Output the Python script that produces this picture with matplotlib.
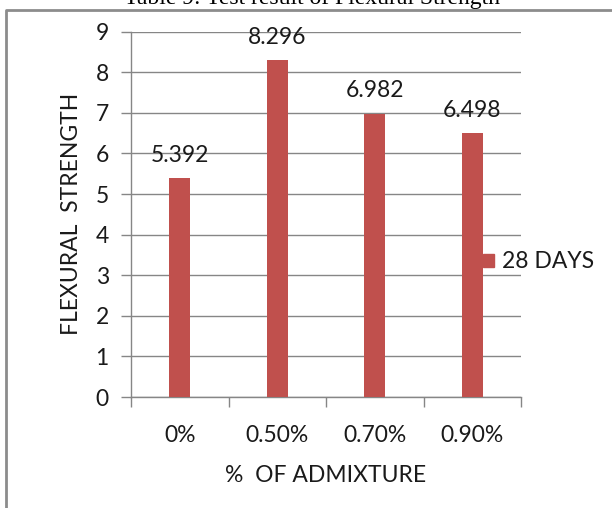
import matplotlib
matplotlib.use("Agg")
from matplotlib import pyplot as plt
from matplotlib.lines import Line2D
from matplotlib.patches import Patch

# flexural strength at 28 days for each admixture dose
categories = ["0%", "0.50%", "0.70%", "0.90%"]
strength_28 = [5.392, 8.296, 6.982, 6.498]
value_labels = ["5.392", "8.296", "6.982", "6.498"]
series_name = "28 DAYS"

bar_color = "#C0504D"
grid_color = "#868686"
text_color = "#1a1a1a"
font = "Lato"
fsize = 16.5

fig = plt.figure(figsize=(6.12, 5.08), dpi=100)
W, H = 612.0, 508.0

ax = fig.add_axes([131 / W, 1 - 397 / H, 390 / W, 365.3 / H])

xs = list(range(len(categories)))
ax.bar(xs, strength_28, width=0.22, color=bar_color, zorder=3)

for x, v, lab in zip(xs, strength_28, value_labels):
    ax.annotate(lab, (x, v), xytext=(0, 9), textcoords="offset points",
                ha="center", va="bottom", fontsize=fsize, family=font,
                color=text_color, zorder=4)

ax.set_xlim(-0.5, len(categories) - 0.5)
ax.set_ylim(0, 9)
ax.set_yticks(range(0, 10))
ax.yaxis.grid(True, color=grid_color, lw=1)
ax.set_axisbelow(True)

# ticks on the category boundaries, labels in the middle
ax.set_xticks([i - 0.5 for i in range(len(categories) + 1)])
ax.set_xticklabels([])
ax.set_xticks(xs, minor=True)
ax.set_xticklabels(categories, minor=True)
ax.tick_params(axis="x", which="major", length=7, color=grid_color, width=1)
ax.tick_params(axis="x", which="minor", length=0, pad=20,
               labelsize=fsize, labelcolor=text_color)
ax.tick_params(axis="y", length=7, color=grid_color, width=1, pad=9,
               labelsize=fsize, labelcolor=text_color)
for t in ax.get_xticklabels(minor=True) + ax.get_yticklabels():
    t.set_family(font)

for s in ["top", "right"]:
    ax.spines[s].set_visible(False)
for s in ["left", "bottom"]:
    ax.spines[s].set_color(grid_color)
    ax.spines[s].set_linewidth(1)

ax.set_xlabel("%  OF ADMIXTURE", fontsize=fsize, family=font,
              color=text_color, labelpad=14)
ax.set_ylabel("FLEXURAL  STRENGTH", fontsize=fsize, family=font,
              color=text_color, labelpad=10)

ax.legend(handles=[Patch(color=bar_color, label=series_name)],
          loc="center left", bbox_to_anchor=(483 / W, 1 - 262 / H),
          bbox_transform=fig.transFigure, frameon=False, borderpad=0,
          borderaxespad=0, handlelength=0.5, handleheight=0.5,
          handletextpad=0.35, prop={"family": font, "size": fsize},
          labelcolor=text_color)

# chart border and the caption above it
fig.add_artist(Line2D([6 / W, 6 / W, 1.0], [0.0, 1 - 10 / H, 1 - 10 / H],
                      transform=fig.transFigure, color="#8c8c8c", lw=2))
fig.text(312 / W, 1 - 4 / H, "Table 9: Test result of Flexural Strength",
         ha="center", va="baseline", fontsize=17, family="Liberation Serif",
         color="black")

fig.savefig("out.png", dpi=100)
